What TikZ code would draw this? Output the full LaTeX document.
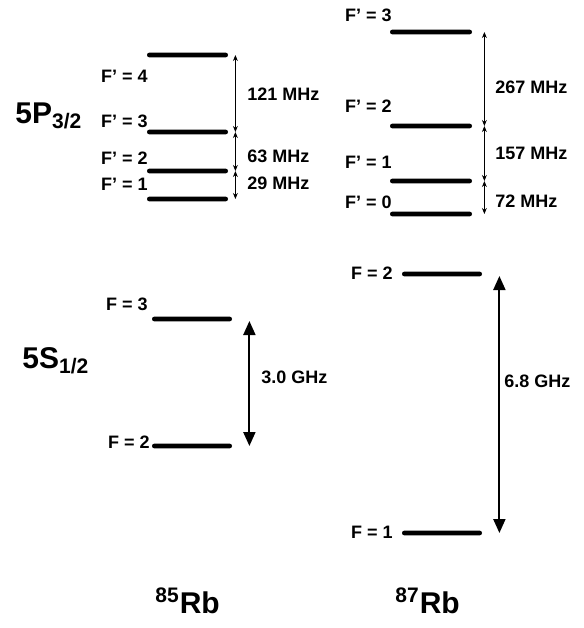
\documentclass[tikz,border=0pt]{standalone}
\usepackage{fontspec}
\setmainfont{Liberation Sans}
\usetikzlibrary{arrows.meta,positioning}

\begin{document}
\begin{tikzpicture}[
    x=0.5pt,y=-0.5pt,
    statebar/.style={fill=black,rectangle,rounded corners=1.1pt,minimum width=40.5pt,minimum height=2.3pt,inner sep=0pt},
    flabel/.style={font=\fontsize{9}{11}\selectfont\bfseries,anchor=base east,inner sep=0pt},
    gaplabel/.style={font=\fontsize{9}{11}\selectfont\bfseries,anchor=base west,inner sep=0pt},
    termlabel/.style={font=\fontsize{15}{18}\selectfont\bfseries,anchor=base west,inner sep=0pt},
    hfsarrow/.style={line width=0.4pt,{Stealth[length=3pt,width=2.4pt]}-{Stealth[length=3pt,width=2.4pt]}},
    gsarrow/.style={line width=1pt,{Triangle[length=7pt,width=6pt]}-{Triangle[length=7pt,width=6pt]}}
  ]
    \useasboundingbox (0,0) rectangle (584,628);

    % 85Rb, 5P3/2
    \node[statebar] (a4) at (187.5,55) {};
    \node[statebar] (a3) at (187.5,132) {};
    \node[statebar] (a2) at (187.5,171) {};
    \node[statebar] (a1) at (187.5,199) {};
    \node[flabel] (la4) at (148,82) {F' = 4};
    \node[flabel] (la3) at (148,127) {F' = 3};
    \node[flabel] (la2) at (148,164) {F' = 2};
    \node[flabel] (la1) at (148,190) {F' = 1};
    \draw[hfsarrow] ([xshift=3.5pt]a4.east) -- ([xshift=3.5pt]a3.east);
    \draw[hfsarrow] ([xshift=3.5pt]a3.east) -- ([xshift=3.5pt]a2.east);
    \draw[hfsarrow] ([xshift=3.5pt]a2.east) -- ([xshift=3.5pt]a1.east);
    \node[gaplabel] (ga43) at (247,100) {121 MHz};
    \node[gaplabel] (ga32) at (247,162) {63 MHz};
    \node[gaplabel] (ga21) at (247,189) {29 MHz};

    % 85Rb, 5S1/2
    \node[statebar,minimum width=40pt] (s3) at (192,319) {};
    \node[statebar,minimum width=40pt] (s2) at (192,446) {};
    \node[flabel] (ls3) at (148,310) {F = 3};
    \node[flabel] (ls2) at (150,448) {F = 2};
    \draw[gsarrow] ([xshift=8.5pt,yshift=-1pt]s3.east) -- ([xshift=8.5pt]s2.east);
    \node[gaplabel] (gs32) at (261,383) {3.0 GHz};

    % 87Rb, 5P3/2
    \node[statebar,minimum width=41pt] (b3) at (431,32) {};
    \node[statebar,minimum width=41pt] (b2) at (431,126) {};
    \node[statebar,minimum width=41pt] (b1) at (431,181) {};
    \node[statebar,minimum width=41pt] (b0) at (431,214) {};
    \node[flabel] (lb3) at (392,21) {F' = 3};
    \node[flabel] (lb2) at (392,112) {F' = 2};
    \node[flabel] (lb1) at (392,168) {F' = 1};
    \node[flabel] (lb0) at (392,208) {F' = 0};
    \draw[hfsarrow] ([xshift=6pt]b3.east) -- ([xshift=6pt]b2.east);
    \draw[hfsarrow] ([xshift=6pt]b2.east) -- ([xshift=6pt]b1.east);
    \draw[hfsarrow] ([xshift=6pt]b1.east) -- ([xshift=6pt]b0.east);
    \node[gaplabel] (gb32) at (495,93) {267 MHz};
    \node[gaplabel] (gb21) at (495,159) {157 MHz};
    \node[gaplabel] (gb10) at (495,207) {72 MHz};

    % 87Rb, 5S1/2
    \node[statebar,minimum width=40pt] (t2) at (442,274) {};
    \node[statebar,minimum width=40pt] (t1) at (442,533) {};
    \node[flabel] (lt2) at (393,279) {F = 2};
    \node[flabel] (lt1) at (393,538) {F = 1};
    \draw[gsarrow] ([xshift=8.5pt,yshift=-1pt]t2.east) -- ([xshift=8.5pt]t1.east);
    \node[gaplabel] (gt21) at (504,387) {6.8 GHz};

    % terms and isotopes
    \node[termlabel] (p32) at (15,123) {5P\textsubscript{3/2}};
    \node[termlabel] (s12) at (22,368) {5S\textsubscript{1/2}};
    \node[termlabel] (rb85) at (155,613) {\textsuperscript{85}Rb};
    \node[termlabel] (rb87) at (395,613) {\textsuperscript{87}Rb};
  \end{tikzpicture}
\end{document}
